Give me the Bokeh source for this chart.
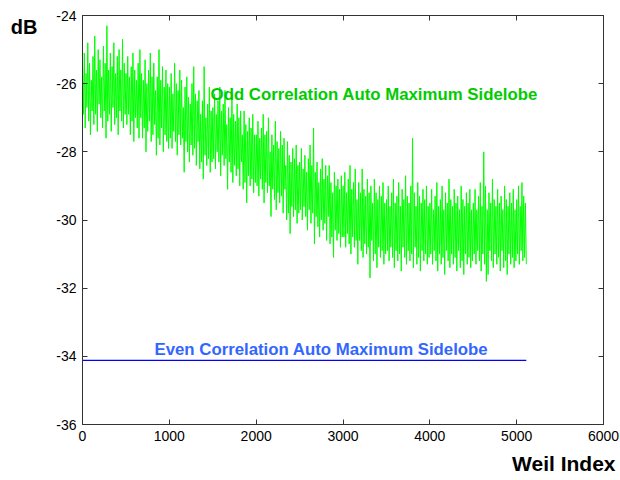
from bokeh.plotting import figure
from bokeh.models import LinearAxis, Label, Range1d, FixedTicker, Title, CustomJSTickFormatter
from bokeh.embed import file_html
from bokeh.resources import INLINE

# ---- data ----
weil_index = list(range(1, 5112, 10))
# upper samples of the odd-correlation trace (one every 20 indices)
odd_db_hi = [
    -25.5, -25.1, -25.7, -24.8, -25.4, -25.9, -25.2, -24.6, -25.6, -25.0, -25.3, -25.8, -24.9, -25.4, -24.3, -25.6, -25.1, -25.5, -24.8, -25.7, -25.2, -25.0, -25.6, -24.7, -25.4,
    -25.7, -25.2, -25.8, -25.5, -25.1, -25.6, -25.9, -25.4, -25.0, -25.7, -25.9, -25.3, -26.0, -25.6, -25.1, -25.8, -25.4, -26.2, -25.8, -25.0, -25.9, -25.5, -26.1, -25.6, -26.0,
    -26.1, -25.7, -26.3, -25.4, -26.0, -26.2, -25.6, -25.9, -26.7, -26.1, -25.8, -26.4, -26.6, -26.0, -25.5, -26.3, -26.5, -26.2, -26.9, -26.5, -25.5, -27.0, -26.6, -26.1, -26.8,
    -26.7, -26.3, -26.9, -26.5, -26.1, -26.8, -26.6, -26.2, -27.2, -26.7, -27.0, -26.3, -26.9, -27.1, -26.6, -27.0, -26.8, -27.5, -26.8, -27.2, -27.4, -27.0, -27.3, -26.9, -27.5,
    -27.5, -27.1, -27.6, -27.3, -26.9, -27.5, -27.4, -27.0, -28.0, -27.5, -27.8, -27.1, -27.7, -27.9, -27.4, -27.8, -27.6, -28.4, -27.7, -28.1, -28.3, -27.9, -28.2, -27.8, -28.4,
    -28.3, -27.9, -28.5, -28.1, -28.6, -28.2, -27.8, -28.4, -27.3, -28.6, -28.3, -28.9, -28.5, -28.2, -28.8, -28.4, -28.7, -28.4, -28.9, -29.2, -28.6, -29.0, -28.8, -29.1, -28.7,
    -29.0, -28.6, -29.2, -28.8, -28.4, -29.1, -28.9, -28.5, -29.4, -28.9, -29.2, -28.5, -29.1, -29.3, -28.8, -29.2, -29.0, -29.5, -28.8, -29.2, -29.4, -29.0, -29.3, -28.9, -29.5,
    -29.4, -29.0, -29.6, -29.2, -28.8, -29.5, -29.3, -28.9, -29.6, -29.1, -29.4, -28.7, -29.3, -29.5, -29.0, -27.6, -29.2, -29.6, -28.9, -29.3, -29.5, -29.1, -29.4, -29.0, -29.6,
    -29.5, -29.1, -29.7, -29.3, -28.9, -29.6, -29.4, -29.0, -29.7, -29.2, -29.5, -28.8, -29.4, -29.6, -29.1, -29.5, -29.3, -29.7, -29.0, -29.4, -29.6, -29.2, -29.5, -29.1, -29.7,
    -29.5, -29.1, -29.7, -29.3, -28.9, -29.6, -28.0, -29.0, -29.7, -29.2, -29.5, -28.8, -29.4, -29.6, -29.1, -29.5, -29.3, -29.7, -29.0, -29.4, -29.6, -29.2, -29.5, -29.1, -29.7,
    -29.4, -29.0, -29.6, -28.9, -29.3, -29.5,
]
# lower samples of the odd-correlation trace (one every 20 indices, offset by 10)
odd_db_lo = [
    -26.9, -27.3, -26.7, -27.1, -27.5, -26.8, -27.2, -26.9, -27.4, -26.6, -27.0, -27.3, -26.8, -27.6, -27.1, -26.9, -27.4, -26.7, -27.2, -27.0, -27.5, -26.8, -27.1, -27.3, -26.9,
    -27.2, -26.9, -27.5, -27.1, -27.7, -27.0, -27.3, -27.6, -27.0, -27.6, -27.3, -28.0, -27.4, -27.1, -27.7, -27.5, -27.2, -28.1, -27.6, -27.8, -27.3, -28.0, -27.5, -27.7, -27.9,
    -27.6, -27.9, -27.4, -27.7, -28.1, -27.5, -27.8, -27.6, -28.6, -27.7, -28.0, -28.3, -27.8, -28.1, -27.9, -28.4, -27.7, -28.5, -28.3, -28.8, -28.1, -28.4, -28.2, -28.6, -28.3,
    -28.2, -28.5, -28.0, -28.3, -28.7, -28.1, -28.4, -28.2, -29.1, -28.3, -28.6, -28.9, -28.4, -28.7, -28.5, -29.0, -28.3, -29.1, -28.9, -29.5, -28.7, -29.0, -28.8, -29.2, -28.9,
    -29.0, -29.3, -28.8, -29.1, -29.5, -28.9, -29.2, -29.0, -29.9, -29.1, -29.4, -29.7, -29.2, -29.5, -29.3, -29.8, -29.1, -30.0, -29.8, -30.4, -29.6, -29.9, -29.7, -30.1, -29.8,
    -29.7, -30.0, -29.6, -29.9, -30.3, -29.7, -30.1, -29.8, -30.7, -29.9, -30.2, -30.5, -30.0, -30.3, -30.1, -30.6, -29.9, -30.7, -30.5, -31.1, -30.3, -30.6, -30.4, -30.8, -30.5,
    -30.5, -30.8, -30.4, -30.7, -31.0, -30.5, -30.8, -30.6, -31.3, -30.6, -30.9, -31.1, -30.7, -31.0, -30.8, -31.7, -30.6, -31.2, -31.0, -31.4, -30.8, -31.1, -30.9, -31.3, -31.0,
    -30.9, -31.2, -30.8, -31.1, -31.4, -30.9, -31.2, -31.0, -31.5, -30.8, -31.1, -31.3, -30.9, -31.2, -31.0, -31.4, -30.8, -31.3, -31.1, -31.5, -30.9, -31.2, -31.0, -31.3, -31.1,
    -31.0, -31.3, -30.9, -31.2, -31.5, -31.0, -31.3, -31.1, -31.6, -30.9, -31.2, -31.4, -31.0, -31.3, -31.1, -31.5, -30.9, -31.4, -31.2, -31.6, -31.0, -31.3, -31.1, -31.4, -31.2,
    -31.0, -31.3, -30.9, -31.2, -31.5, -31.0, -31.3, -31.8, -31.6, -30.9, -31.2, -31.4, -31.0, -31.3, -31.1, -31.5, -30.9, -31.4, -31.2, -31.6, -31.0, -31.3, -31.1, -31.4, -31.2,
    -31.0, -31.3, -30.9, -31.2, -31.1, -31.3,
]
odd_sidelobe_db = [v for pair in zip(odd_db_hi, odd_db_lo) for v in pair]
even_sidelobe_db = -34.12
even_series = [even_sidelobe_db] * len(weil_index)

x_ticks = [0, 1000, 2000, 3000, 4000, 5000, 6000]
x_tick_labels = ["0", "1000", "2000", "3000", "4000", "5000", "6000"]
y_ticks = [-36, -34, -32, -30, -28, -26, -24]
y_tick_labels = ["-36", "-34", "-32", "-30", "-28", "-26", "-24"]

odd_label = "Odd Correlation Auto Maximum Sidelobe"
even_label = "Even Correlation Auto Maximum Sidelobe"
y_title = "dB"
x_title = "Weil Index"

FONT = "Liberation Sans"
AXIS_COLOR = "#333333"

p = figure(width=620, height=480, output_backend="svg", toolbar_location=None,
           x_range=Range1d(0, 6000), y_range=Range1d(-36, -24),
           min_border_left=82, min_border_right=17, min_border_top=15, min_border_bottom=56)
p.grid.visible = False
p.outline_line_color = AXIS_COLOR
p.background_fill_color = "white"
p.border_fill_color = "white"

p.line(weil_index, odd_sidelobe_db, line_color="#00ff00", line_width=1)
p.line(weil_index, even_series, line_color="#0000ff", line_width=1.4)


def style_axis(ax, ticks, labels):
    ax.ticker = FixedTicker(ticks=ticks)
    ax.major_tick_in = 5
    ax.major_tick_out = 0
    ax.minor_tick_line_color = None
    ax.axis_line_color = AXIS_COLOR
    ax.major_tick_line_color = AXIS_COLOR
    if labels is not None:
        ax.major_label_overrides = dict(zip(ticks, labels))
        ax.major_label_text_font = FONT
        ax.major_label_text_font_size = "14px"
        ax.major_label_text_color = "black"
        ax.major_label_standoff = 6
    else:
        ax.major_label_text_color = None
        ax.major_label_text_font_size = "1px"
        ax.major_label_standoff = 0


style_axis(p.xaxis[0], x_ticks, x_tick_labels)
style_axis(p.yaxis[0], y_ticks, y_tick_labels)
top_ax = LinearAxis()
right_ax = LinearAxis()
style_axis(top_ax, x_ticks, None)
style_axis(right_ax, y_ticks, None)
p.add_layout(top_ax, "above")
p.add_layout(right_ax, "right")

# y-axis title "dB", placed at the top-left like the reference (via an extra, line-less axis)
db_axis = LinearAxis(ticker=FixedTicker(ticks=[-24.35]),
                     formatter=CustomJSTickFormatter(code="return '%s'" % y_title),
                     axis_line_color=None, major_tick_line_color=None,
                     minor_tick_line_color=None, major_tick_in=0, major_tick_out=0,
                     major_label_standoff=16, major_label_text_font=FONT,
                     major_label_text_font_style="bold", major_label_text_font_size="20px",
                     major_label_text_color="black")
p.add_layout(db_axis, "left")

p.add_layout(Label(x=1475, y=-26.33, text=odd_label, text_color="#00cc00",
                   text_font=FONT, text_font_style="bold", text_font_size="16.8px",
                   text_baseline="alphabetic"))
p.add_layout(Label(x=829, y=-33.79, text=even_label, text_color="#3366ff",
                   text_font=FONT, text_font_style="bold", text_font_size="16.8px",
                   text_baseline="alphabetic"))
p.add_layout(Title(text=x_title, align="right", offset=-12, standoff=12,
                   text_color="black", text_font=FONT, text_font_style="bold",
                   text_font_size="21px"), "below")

open("out.html", "w").write(file_html(p, INLINE))
